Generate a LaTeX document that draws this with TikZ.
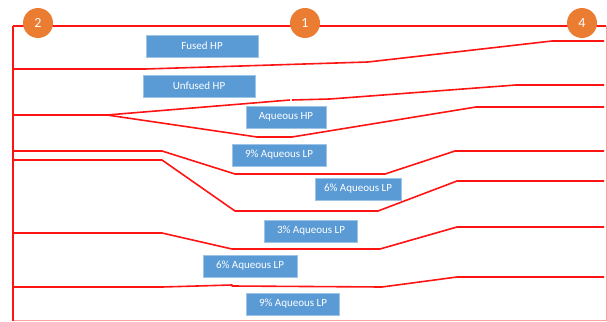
\documentclass[tikz,border=0pt]{standalone}
\usepackage{fontspec}
\setmainfont{Carlito}
\definecolor{lineRed}{RGB}{255,20,20}
\definecolor{framePink}{RGB}{255,160,160}
\definecolor{boxBlue}{RGB}{91,155,213}
\definecolor{dotOrange}{RGB}{235,125,50}

\tikzset{
  trace/.style={lineRed, line width=1.6pt, line join=round},
  sample/.style={fill=boxBlue, draw=boxBlue!60!white, line width=0.6pt,
    text=white, minimum height=22pt, inner sep=0pt,
    font=\fontsize{11}{13}\selectfont},
  marker/.style={circle, fill=dotOrange, text=white, minimum size=30pt,
    inner sep=0pt, font=\fontsize{14}{16}\selectfont}
}

\begin{document}
\begin{tikzpicture}[x=1pt, y=-1pt]
        \useasboundingbox (0,0) rectangle (607,321);
        % outer frame
        \draw[framePink, line width=0.8pt] (606,26) -- (606,320) -- (13,320);
        \draw[trace] (13,26) -- (606,26);
        \draw[trace] (13,26) -- (13,321);
        % traces
        \draw[trace] (13,69) -- (145,69) -- (368,62) -- (552,41) -- (604,41);
        \draw[trace] (13,115) -- (107,115) -- (290,100);
        \draw[trace] (292,100) -- (330,99) -- (516,85) -- (604,85);
        \draw[trace] (107,115) -- (257,137) -- (292,137) -- (476,107) -- (604,107);
        \draw[trace] (13,151) -- (162,151) -- (235,174) -- (385,174) -- (455,151) -- (604,151);
        \draw[trace] (13,160) -- (162,160) -- (235,211) -- (378,211) -- (457,181) -- (604,181);
        \draw[trace] (13,233) -- (162,233) -- (232,249) -- (380,249) -- (457,227) -- (604,227);
        \draw[trace] (13,287) -- (162,287) -- (232,285) -- (232,286) -- (382,287) -- (457,277) -- (604,277);
        % markers
        \node[marker] (m2) at (38,23) {2};
        \node[marker] (m1) at (305,23) {1};
        \node[marker] (m4) at (582,23) {4};
        % samples
        \node[sample, minimum width=112pt] (fusedHP) at (202,46) {Fused HP};
        \node[sample, minimum width=112pt] (unfusedHP) at (199,86) {Unfused HP};
        \node[sample, minimum width=80pt] (aqHP) at (286,117) {Aqueous HP};
        \node[sample, minimum width=94pt] (lpNineA) at (279,155) {9\% Aqueous LP};
        \node[sample, minimum width=86pt] (lpSixA) at (358,189) {6\% Aqueous LP};
        \node[sample, minimum width=93pt] (lpThree) at (311,231) {3\% Aqueous LP};
        \node[sample, minimum width=94pt] (lpSixB) at (250,266) {6\% Aqueous LP};
        \node[sample, minimum width=93pt] (lpNineB) at (293,304) {9\% Aqueous LP};
      \end{tikzpicture}
\end{document}
